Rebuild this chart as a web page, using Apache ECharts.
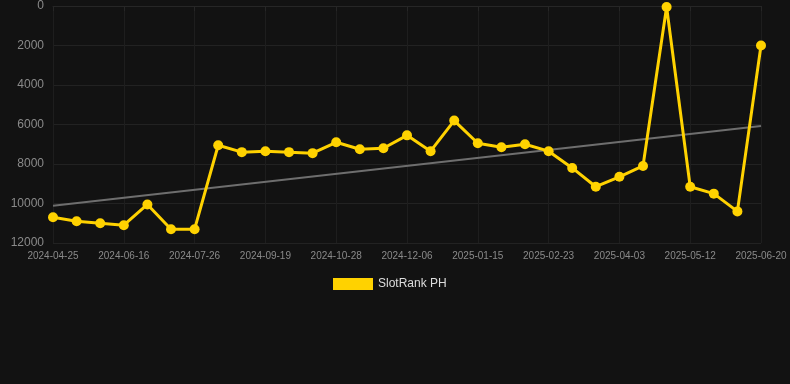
<!DOCTYPE html>
<html>
<head>
<meta charset="utf-8">
<script src="https://cdn.jsdelivr.net/npm/echarts@6/dist/echarts.min.js"></script>
<style>
  html, body { margin: 0; padding: 0; background: #121212; }
  #chart { width: 790px; height: 384px; }
</style>
</head>
<body>
<div id="chart"></div>
<script>
var dates = [
    '2024-04-25', '2024-05-12', '2024-05-29', '2024-06-16', '2024-06-29', '2024-07-12',
    '2024-07-26', '2024-08-13', '2024-09-01', '2024-09-19', '2024-10-02', '2024-10-15',
    '2024-10-28', '2024-11-10', '2024-11-23', '2024-12-06', '2024-12-19', '2025-01-02',
    '2025-01-15', '2025-01-28', '2025-02-10', '2025-02-23', '2025-03-08', '2025-03-21',
    '2025-04-03', '2025-04-16', '2025-04-29', '2025-05-12', '2025-05-25', '2025-06-07',
    '2025-06-20'
];
var rankValues = [
    10700, 10900, 11000, 11100, 10050, 11300,
    11300, 7050, 7400, 7350, 7400, 7450,
    6900, 7250, 7200, 6550, 7350, 5800,
    6950, 7150, 7000, 7350, 8200, 9150,
    8650, 8100, 50, 9150, 9500, 10400,
    2000
];
// trend line: value at first and last date
var trendEnds = [10110, 6070];
var yTicks = [0, 2000, 4000, 6000, 8000, 10000, 12000];

var trendData = dates.map(function (d, i) {
    if (i === 0) return trendEnds[0];
    if (i === dates.length - 1) return trendEnds[1];
    return null;
});

var myChart = echarts.init(document.getElementById('chart'));
var option = {
    backgroundColor: '#121212',
    animation: false,
    grid: {
        left: 53,
        right: 29,
        top: 6,
        bottom: 141
    },
    legend: {
        top: 273,
        left: 328,
        itemWidth: 40,
        itemHeight: 12,
        itemGap: 6,
        icon: 'rect',
        textStyle: { color: '#dddddd', fontSize: 12, fontFamily: 'Arial, Liberation Sans, sans-serif' },
        data: ['SlotRank PH']
    },
    xAxis: {
        type: 'category',
        boundaryGap: false,
        data: dates,
        axisLine: { show: true, lineStyle: { color: '#262626' } },
        axisTick: { show: true, interval: 2, length: 5, lineStyle: { color: '#262626' } },
        axisLabel: {
            interval: 2,
            color: '#8a8a8a',
            fontSize: 10,
            margin: 8,
            fontFamily: 'Arial, Liberation Sans, sans-serif'
        },
        splitLine: { show: true, interval: 2, lineStyle: { color: '#1e1e1e' } }
    },
    yAxis: {
        type: 'value',
        inverse: true,
        min: yTicks[0],
        max: yTicks[yTicks.length - 1],
        interval: 2000,
        axisLine: { show: false },
        axisTick: { show: false },
        axisLabel: {
            color: '#8a8a8a',
            fontSize: 12,
            margin: 9,
            formatter: function (v) { return String(v); },
            fontFamily: 'Arial, Liberation Sans, sans-serif'
        },
        splitLine: { show: true, lineStyle: { color: '#222222' } }
    },
    series: [
        {
            name: 'SlotRank PH',
            type: 'line',
            data: rankValues,
            color: '#FFD200',
            lineStyle: { width: 3, color: '#FFD200' },
            itemStyle: { color: '#FFD200' },
            symbol: 'circle',
            symbolSize: 10,
            z: 3
        },
        {
            name: 'trend',
            type: 'line',
            data: trendData,
            connectNulls: true,
            symbol: 'none',
            lineStyle: { width: 2, color: '#6e6e6e' },
            silent: true,
            z: 2
        }
    ]
};
myChart.setOption(option);
window.addEventListener('resize', function () {
    myChart.resize();
});
</script>
</body>
</html>
